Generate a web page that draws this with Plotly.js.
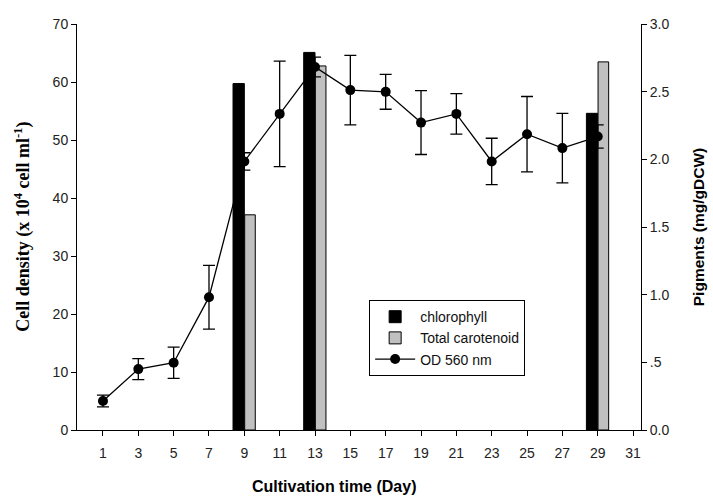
<!DOCTYPE html>
<html>
<head>
<meta charset="utf-8">
<script src="https://cdn.plot.ly/plotly-3.0.1.min.js"></script>
<style>html,body{margin:0;padding:0;background:#fff}#chart{width:713px;height:496px}</style>
</head>
<body>
<div id="chart"></div>
<script>
// Pigment bars (mg/gDCW)
const barDays = [9, 13, 29];
const chlorophyll = [2.56, 2.79, 2.34];
const carotenoid = [1.59, 2.69, 2.72];

// Cell density (x10^4 cell/ml)
const days = [1, 3, 5, 7, 9, 11, 13, 15, 17, 19, 21, 23, 25, 27, 29];
const density = [5.0, 10.5, 11.6, 22.9, 46.3, 54.5, 62.6, 58.6, 58.3, 53.0, 54.5, 46.3, 51.0, 48.6, 50.6];
const densityErr = [1.0, 1.8, 2.7, 5.5, 1.5, 9.1, 1.7, 6.0, 3.0, 5.5, 3.5, 4.0, 6.5, 6.0, 2.0];

const xTicks = [1, 3, 5, 7, 9, 11, 13, 15, 17, 19, 21, 23, 25, 27, 29, 31];
const leftTickVals = [0, 10, 20, 30, 40, 50, 60, 70];
const rightTickVals = [0, 0.5, 1.0, 1.5, 2.0, 2.5, 3.0];
const rightTickText = ['0.0', '.5', '1.0', '1.5', '2.0', '2.5', '3.0'];

const traces = [
  {
    type: 'bar', name: 'chlorophyll', x: barDays, y: chlorophyll, yaxis: 'y',
    width: 0.64, offset: -0.64,
    marker: {color: '#000000', line: {color: '#000000', width: 1}}
  },
  {
    type: 'bar', name: 'Total carotenoid', x: barDays, y: carotenoid, yaxis: 'y',
    width: 0.6, offset: 0.02,
    marker: {color: '#c0c0c0', line: {color: '#000000', width: 1}}
  },
  {
    type: 'scatter', mode: 'lines+markers', name: 'OD 560 nm', x: days, y: density, yaxis: 'y2',
    line: {color: '#000000', width: 1.3},
    marker: {color: '#000000', size: 10},
    error_y: {type: 'data', array: densityErr, visible: true, color: '#000000', thickness: 1.3, width: 6}
  }
];

const tickFont = {family: 'Liberation Sans, Arial, sans-serif', size: 14, color: '#222'};

const layout = {
  width: 713, height: 496,
  margin: {l: 77, r: 72, t: 24, b: 66},
  paper_bgcolor: '#fff', plot_bgcolor: '#fff',
  showlegend: true,
  legend: {
    x: 0.518, y: 0.32, xanchor: 'left', yanchor: 'top',
    bordercolor: '#000', borderwidth: 1, bgcolor: '#fff',
    font: {family: 'Liberation Sans, Arial, sans-serif', size: 14, color: '#111'},
    tracegroupgap: 0, itemwidth: 40
  },
  annotations: [
    {
      text: 'Cultivation time (Day)', xref: 'paper', yref: 'paper', x: 0.455, y: -0.14,
      xanchor: 'center', yanchor: 'middle', showarrow: false,
      font: {family: 'Liberation Sans, Arial, sans-serif', size: 16, weight: 'bold', color: '#000'}
    },
    {
      text: 'Cell density (x 10<sup>4</sup> cell ml<sup>-1</sup>)', xref: 'paper', yref: 'paper',
      x: -0.096, y: 0.5, xanchor: 'center', yanchor: 'middle', textangle: -90, showarrow: false,
      font: {family: 'Liberation Serif, Times New Roman, serif', size: 18, weight: 'bold', color: '#000'}
    }
  ],
  xaxis: {
    range: [-0.47, 31.45], tickvals: xTicks, ticks: 'outside', ticklen: 5, tickwidth: 1, tickcolor: '#000',
    showline: true, linecolor: '#000', linewidth: 1, showgrid: false, zeroline: false,
    tickfont: tickFont, ticklabelstandoff: 5
  },
  yaxis: {
    side: 'right', range: [0, 3], tickvals: rightTickVals, ticktext: rightTickText,
    ticks: 'outside', ticklen: 5, tickwidth: 1, tickcolor: '#000',
    showline: true, linecolor: '#000', linewidth: 1, showgrid: false, zeroline: false,
    tickfont: tickFont,
    title: {text: 'Pigments (mg/gDCW)', font: {family: 'Liberation Sans, Arial, sans-serif', size: 15.5, weight: 'bold', color: '#000'}, standoff: 24}
  },
  yaxis2: {
    overlaying: 'y', side: 'left', range: [0, 70], tickvals: leftTickVals,
    ticks: 'outside', ticklen: 5, tickwidth: 1, tickcolor: '#000',
    showline: true, linecolor: '#000', linewidth: 1, showgrid: false, zeroline: false,
    tickfont: tickFont
  }
};

Plotly.newPlot('chart', traces, layout, {displayModeBar: false, staticPlot: true});
</script>
</body>
</html>
